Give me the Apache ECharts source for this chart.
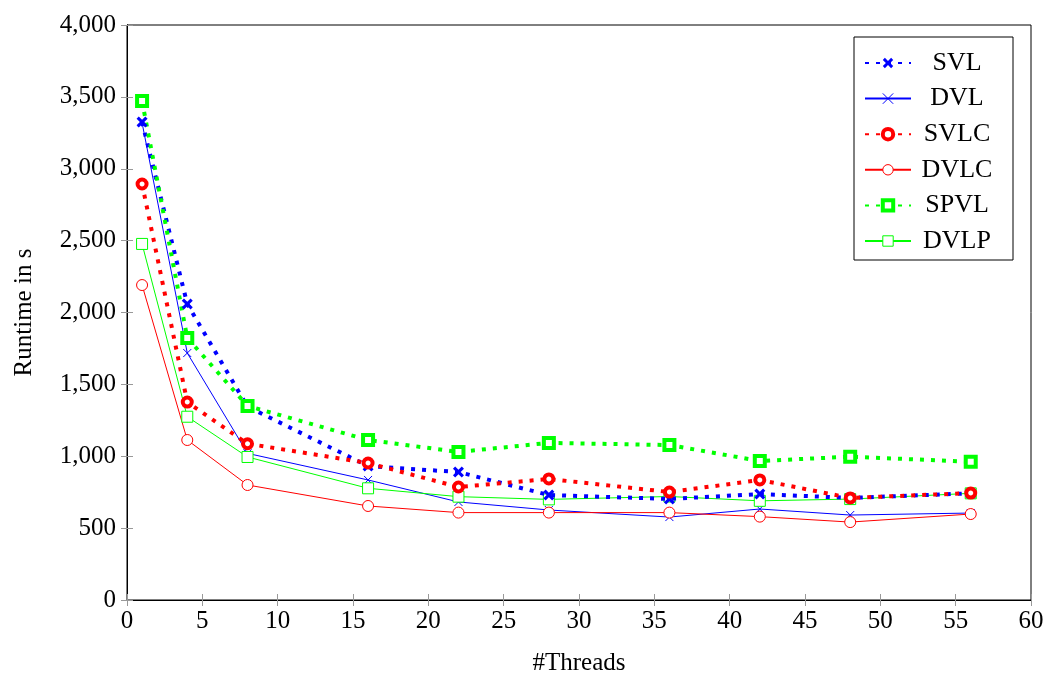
<!DOCTYPE html>
<html>
<head>
<meta charset="utf-8">
<script src="https://cdn.jsdelivr.net/npm/echarts@6/dist/echarts.min.js"></script>
<style>
  html, body { margin: 0; padding: 0; background: #fff; }
  #chart { width: 1050px; height: 680px; }
</style>
</head>
<body>
<div id="chart"></div>
<script>
// Thread counts used in the benchmark runs
const threads = [1, 4, 8, 16, 22, 28, 36, 42, 48, 56];

// Runtime in seconds per variant
const svl  = [3325, 2059, 1345, 932, 890, 730, 703, 737, 710, 742];
const dvl  = [3320, 1718, 1020, 835, 682, 626, 577, 633, 591, 605];
const svlc = [2894, 1377, 1087, 953, 786, 842, 751, 835, 710, 744];
const dvlc = [2191, 1113, 800, 654, 608, 608, 608, 580, 542, 598];
const spvl = [3471, 1823, 1350, 1113, 1030, 1093, 1078, 967, 997, 962];
const dvlp = [2477, 1275, 995, 777, 719, 700, 720, 690, 702, 742];

const variants = ['SVL', 'DVL', 'SVLC', 'DVLC', 'SPVL', 'DVLP'];

const xTicks = { min: 0, max: 60, interval: 5 };
const yTicks = { min: 0, max: 4000, interval: 500 };

const FONT = '"Liberation Serif", "DejaVu Serif", serif';
const BLUE = '#0000ff', RED = '#ff0000', GREEN = '#00ff00';

const crossPath = 'path://M0,0L10,10M10,0L0,10';
const starPath = 'path://M2,0L5,3L8,0L10,2L7,5L10,8L8,10L5,7L2,10L0,8L3,5L0,2Z';

function pairs(vals) { return threads.map((t, i) => [t, vals[i]]); }

// Markers are drawn with a fill colour and a coloured outline of width bw
function series(name, vals, color, dotted, symbol, size, fill, bw) {
  return {
    name: name,
    type: 'line',
    data: pairs(vals),
    symbol: symbol,
    symbolSize: size,
    showAllSymbol: true,
    z: dotted ? 3 : 2,
    lineStyle: {
      color: color,
      width: dotted ? 4 : 1,
      type: dotted ? [4, 7] : 'solid',
      cap: 'butt'
    },
    itemStyle: {
      color: fill,
      borderColor: color,
      borderWidth: bw
    },
    emphasis: { disabled: true },
    animation: false
  };
}

const seriesList = [
  series('SVL',  svl,  BLUE,  true,  starPath, 11, BLUE, 0),
  series('DVL',  dvl,  BLUE,  false, crossPath, 8, BLUE, 1),
  series('SVLC', svlc, RED,   true,  'circle', 9, '#fff', 4),
  series('DVLC', dvlc, RED,   false, 'circle', 11, '#fff', 1),
  series('SPVL', spvl, GREEN, true,  'rect', 10, '#fff', 4),
  series('DVLP', dvlp, GREEN, false, 'rect', 11, '#fff', 1)
];

// Legend entries reuse each series' marker outline
const legendData = variants.map(function (name, i) {
  const s = seriesList[i];
  return {
    name: name,
    itemStyle: { color: s.itemStyle.color, borderColor: s.itemStyle.borderColor, borderWidth: s.itemStyle.borderWidth }
  };
});

const chart = echarts.init(document.getElementById('chart'), null, { renderer: 'canvas' });

const tickStyle = { show: true, inside: true, length: 6, lineStyle: { color: '#999', width: 1 } };

chart.setOption({
  backgroundColor: '#fff',
  textStyle: { fontFamily: FONT },
  grid: {
    left: 127, right: 19, top: 25, bottom: 80,
    outerBoundsMode: 'none',
    containLabel: false,
    show: true, borderColor: '#000', borderWidth: 1, backgroundColor: 'transparent'
  },
  legend: {
    top: 37,
    right: 37,
    orient: 'vertical',
    backgroundColor: '#fff',
    borderColor: '#000',
    borderWidth: 1,
    borderRadius: 0,
    padding: [13, 15, 6, 10],
    itemGap: 9.6,
    itemWidth: 46,
    itemHeight: 13,
    selectedMode: false,
    textStyle: {
      fontFamily: FONT,
      fontSize: 26,
      color: '#000',
      rich: { c: { fontFamily: FONT, fontSize: 26, lineHeight: 26, width: 82, align: 'center', color: '#000' } }
    },
    formatter: function (n) { return '{c|' + n + '}'; },
    data: legendData
  },
  xAxis: [{
    type: 'value',
    min: xTicks.min, max: xTicks.max, interval: xTicks.interval,
    name: '#Threads',
    nameLocation: 'middle',
    nameGap: 51,
    nameTextStyle: { fontFamily: FONT, fontSize: 25, color: '#000' },
    axisLine: { show: true, lineStyle: { color: '#000' } },
    axisTick: tickStyle,
    splitLine: { show: false },
    axisLabel: { fontFamily: FONT, fontSize: 25, color: '#000', margin: 9 }
  }, {
    type: 'value', position: 'top',
    min: xTicks.min, max: xTicks.max, interval: xTicks.interval,
    axisLine: { show: true, lineStyle: { color: '#000' } },
    axisTick: tickStyle, axisLabel: { show: false }, splitLine: { show: false }
  }],
  yAxis: [{
    type: 'value',
    min: yTicks.min, max: yTicks.max, interval: yTicks.interval,
    name: 'Runtime in s',
    nameLocation: 'middle',
    nameGap: 90,
    nameRotate: 90,
    nameTextStyle: { fontFamily: FONT, fontSize: 25, color: '#000' },
    axisLine: { show: true, lineStyle: { color: '#000' } },
    axisTick: tickStyle,
    splitLine: { show: false },
    axisLabel: {
      fontFamily: FONT, fontSize: 25, color: '#000', margin: 11,
      formatter: function (v) { return v.toLocaleString('en-US'); }
    }
  }, {
    type: 'value', position: 'right',
    min: yTicks.min, max: yTicks.max, interval: yTicks.interval,
    axisLine: { show: true, lineStyle: { color: '#000' } },
    axisTick: tickStyle, axisLabel: { show: false }, splitLine: { show: false }
  }],
  series: seriesList
});
</script>
</body>
</html>
